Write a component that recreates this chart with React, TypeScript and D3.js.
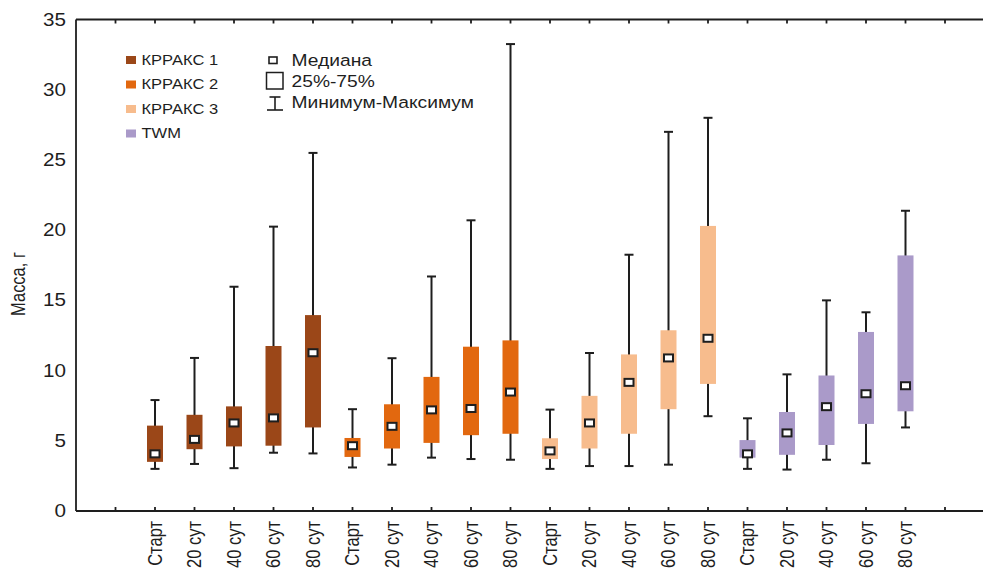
import React, { useEffect, useRef } from 'react'
import * as d3 from 'd3'

// categories along the x axis (4 groups x 5 time points)
const timeLabels = ['Старт', '20 сут', '40 сут', '60 сут', '80 сут']
const groupNames = ['КРРАКС 1', 'КРРАКС 2', 'КРРАКС 3', 'TWM']
const groupColors = ['#9b4718', '#e2680f', '#f7bc8d', '#aa9ac9']

// box statistics, one value per category, in order of groups then time
const minValues = [3.0, 3.35, 3.05, 4.15, 4.1, 3.1, 3.3, 3.8, 3.7, 3.65, 3.0, 3.2, 3.2, 3.3, 6.75, 3.0, 2.95, 3.65, 3.4, 5.95]
const q1Values = [3.5, 4.4, 4.6, 4.65, 5.95, 3.85, 4.45, 4.85, 5.4, 5.5, 3.7, 4.45, 5.5, 7.25, 9.05, 3.8, 4.0, 4.7, 6.2, 7.1]
const medianValues = [4.07, 5.1, 6.27, 6.63, 11.27, 4.65, 6.03, 7.2, 7.3, 8.47, 4.28, 6.27, 9.16, 10.9, 12.3, 4.07, 5.56, 7.43, 8.35, 8.92]
const q3Values = [6.08, 6.85, 7.45, 11.75, 13.95, 5.2, 7.6, 9.55, 11.7, 12.15, 5.18, 8.2, 11.15, 12.87, 20.3, 5.05, 7.05, 9.65, 12.75, 18.2]
const maxValues = [7.9, 10.9, 15.97, 20.25, 25.5, 7.25, 10.88, 16.7, 20.7, 33.25, 7.22, 11.25, 18.25, 27.0, 28.0, 6.6, 9.73, 15.0, 14.15, 21.38]
const yTicks = [0, 5, 10, 15, 20, 25, 30, 35]

const W = 983
const H = 568
const FONT = '"Liberation Sans", Arial, sans-serif'
const INK = '#1e1e1e'
const STRETCH = 1.18 // the original's text is a bit wider than plain Arial

export default function App() {
    const ref = useRef<SVGSVGElement>(null)

    useEffect(() => {
        document.body.style.margin = '0'
        const svg = d3.select(ref.current)
        svg.selectAll('*').remove()

        const left = 76, top = 19.5, bottom = 511, right = W

        const x = d3.scaleLinear().domain([0, 23]).range([left, 984.5])
        const y = d3.scaleLinear().domain([0, 35]).range([bottom, top])

        const cats = d3.range(groupNames.length * timeLabels.length)
        const cx = (i: number) => x(i + 2)

        // frame: left, top and bottom lines
        const frame = svg.append('g').attr('stroke', INK).attr('stroke-width', 1.8)
        frame.append('line').attr('x1', left).attr('x2', right).attr('y1', bottom).attr('y2', bottom)
        frame.append('line').attr('x1', left).attr('x2', right).attr('y1', top).attr('y2', top)
        frame.append('line').attr('x1', left).attr('x2', left).attr('y1', top).attr('y2', bottom)

        // inward ticks on the top and bottom lines
        const tickPos = d3.range(1, 23)
        frame.selectAll('.tb').data(tickPos).enter().append('line')
            .attr('x1', d => x(d)).attr('x2', d => x(d))
            .attr('y1', bottom).attr('y2', bottom - 4)
        frame.selectAll('.tt').data(tickPos).enter().append('line')
            .attr('x1', d => x(d)).attr('x2', d => x(d))
            .attr('y1', top).attr('y2', top + 4)

        // y tick labels
        svg.append('g').selectAll('text').data(yTicks).enter().append('text')
            .attr('transform', d => 'translate(66,' + y(d) + ') scale(' + STRETCH + ',1)')
            .attr('dy', '0.35em')
            .attr('text-anchor', 'end')
            .attr('font-family', FONT)
            .attr('font-size', 17.5)
            .attr('fill', INK)
            .text(d => d)

        // y axis title
        svg.append('text')
            .attr('transform', 'translate(18,' + 284 + ') rotate(-90) scale(1,' + STRETCH + ')')
            .attr('dy', '0.35em')
            .attr('text-anchor', 'middle')
            .attr('font-family', FONT)
            .attr('font-size', 16.5)
            .attr('fill', INK)
            .text('Масса, г')

        // x labels, rotated
        svg.append('g').selectAll('text').data(cats).enter().append('text')
            .attr('transform', d => 'translate(' + cx(d) + ',' + 521 + ') rotate(-90) scale(1,' + STRETCH + ')')
            .attr('dy', '0.35em')
            .attr('text-anchor', 'end')
            .attr('font-family', FONT)
            .attr('font-size', 16.5)
            .attr('fill', INK)
            .text(d => timeLabels[d % timeLabels.length])

        const boxW = 16
        const capW = 9
        const color = (i: number) => groupColors[Math.floor(i / timeLabels.length)]

        const g = svg.append('g')
        // whiskers
        g.selectAll('.wh').data(cats).enter().append('line')
            .attr('x1', d => cx(d)).attr('x2', d => cx(d))
            .attr('y1', d => y(minValues[d])).attr('y2', d => y(maxValues[d]))
            .attr('stroke', INK).attr('stroke-width', 2)
        g.selectAll('.capmin').data(cats).enter().append('line')
            .attr('x1', d => cx(d) - capW / 2).attr('x2', d => cx(d) + capW / 2)
            .attr('y1', d => y(minValues[d])).attr('y2', d => y(minValues[d]))
            .attr('stroke', INK).attr('stroke-width', 2)
        g.selectAll('.capmax').data(cats).enter().append('line')
            .attr('x1', d => cx(d) - capW / 2).attr('x2', d => cx(d) + capW / 2)
            .attr('y1', d => y(maxValues[d])).attr('y2', d => y(maxValues[d]))
            .attr('stroke', INK).attr('stroke-width', 2)
        // boxes
        g.selectAll('.box').data(cats).enter().append('rect')
            .attr('x', d => cx(d) - boxW / 2)
            .attr('width', boxW)
            .attr('y', d => y(q3Values[d]))
            .attr('height', d => y(q1Values[d]) - y(q3Values[d]))
            .attr('fill', d => color(d))
        // medians
        g.selectAll('.med').data(cats).enter().append('rect')
            .attr('x', d => cx(d) - 4.5)
            .attr('y', d => y(medianValues[d]) - 3.5)
            .attr('width', 9).attr('height', 7)
            .attr('fill', '#fff').attr('stroke', INK).attr('stroke-width', 2)

        // legend: groups
        const leg = svg.append('g').attr('font-family', FONT).attr('fill', INK)
        groupNames.forEach((name, i) => {
            const cy = 60 + i * 24.5
            leg.append('rect').attr('x', 126).attr('y', cy - 4).attr('width', 10).attr('height', 8)
                .attr('fill', groupColors[i])
            leg.append('text')
                .attr('transform', 'translate(141.5,' + cy + ') scale(' + STRETCH + ',1)')
                .attr('dy', '0.35em').attr('font-size', 14).text(name)
        })

        // legend: symbols
        const sym = (label: string, cy: number) => leg.append('text')
            .attr('transform', 'translate(291.5,' + cy + ') scale(' + STRETCH + ',1)')
            .attr('dy', '0.35em').attr('font-size', 16.3).text(label)
        leg.append('rect').attr('x', 269).attr('y', 57).attr('width', 8).attr('height', 6.5)
            .attr('fill', '#fff').attr('stroke', INK).attr('stroke-width', 1.6)
        sym('Медиана', 60)
        leg.append('rect').attr('x', 266.5).attr('y', 72.5).attr('width', 16.5).attr('height', 16.5)
            .attr('fill', '#fff').attr('stroke', INK).attr('stroke-width', 1.5)
        sym('25%-75%', 81.5)
        const wl = leg.append('g').attr('stroke', INK).attr('stroke-width', 1.6)
        wl.append('line').attr('x1', 275).attr('x2', 275).attr('y1', 97).attr('y2', 110)
        wl.append('line').attr('x1', 269.5).attr('x2', 280.5).attr('y1', 97).attr('y2', 97)
        wl.append('line').attr('x1', 267).attr('x2', 283).attr('y1', 110).attr('y2', 110)
        sym('Минимум-Максимум', 102.5)
    }, [])

    return (
        <svg ref={ref} width={W} height={H} style={{ display: 'block', background: '#fff' }} />
    )
}
